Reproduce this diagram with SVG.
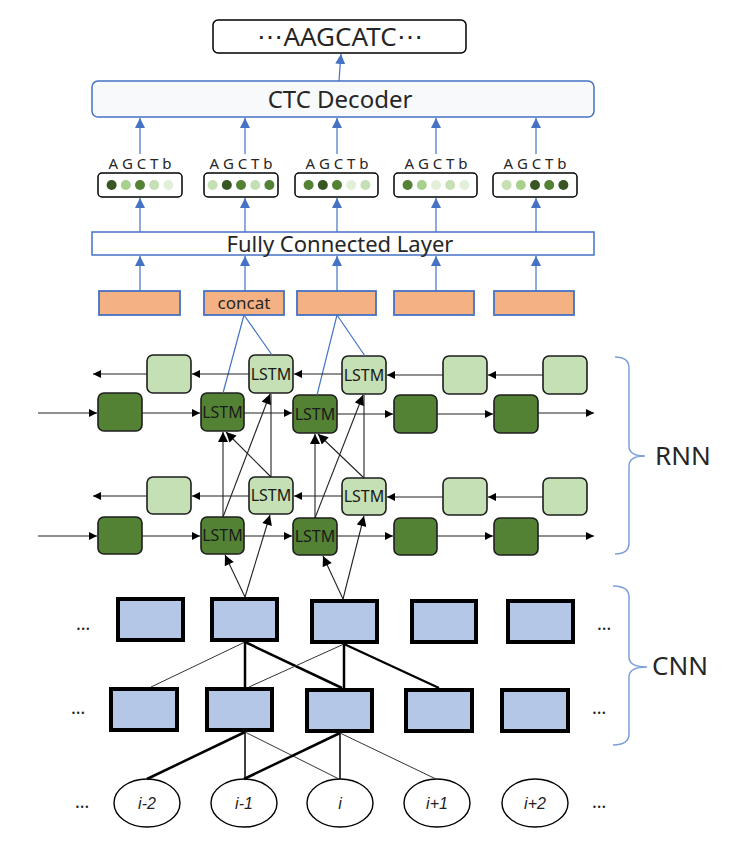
<svg xmlns="http://www.w3.org/2000/svg" width="737" height="860" viewBox="0 0 737 860">
<defs>
<style>
.t{font-family:"Noto Sans","Open Sans","Liberation Sans",sans-serif;fill:#262626}
.lstm{font-family:"Noto Sans","Open Sans","Liberation Sans",sans-serif;font-size:16px;fill:#1a1a1a;text-anchor:middle}
.fw{fill:#548235;stroke:#1e1e1e;stroke-width:1.6}
.bw{fill:#c5e0b4;stroke:#1e1e1e;stroke-width:1.6}
.pb{fill:#fff;stroke:#000;stroke-width:1.5}
.or{fill:#f4b183;stroke:#4472c4;stroke-width:1.8}
.cnn{fill:#b4c7e7;stroke:#000;stroke-width:4}
.ell{fill:#fff;stroke:#000;stroke-width:1.4}
.blu{stroke:#4472c4;stroke-width:1.2;fill:none}
.blk{stroke:#222;stroke-width:1.1;fill:none}
.brace{stroke:#7f9fd8;stroke-width:1.5;fill:none}
.dots{font-family:"Noto Sans","Liberation Sans",sans-serif;font-size:18px;fill:#222;text-anchor:middle}
.idx{font-family:"Liberation Sans","Noto Sans",sans-serif;font-style:italic;font-size:16px;fill:#222;text-anchor:middle}
</style>
<marker id="ab" viewBox="0 0 10 10" refX="10" refY="5" markerWidth="9" markerHeight="8" markerUnits="userSpaceOnUse" orient="auto"><path d="M0,0 L10,5 L0,10 z" fill="#000"/></marker>
<marker id="abb" viewBox="0 0 10 10" refX="10" refY="5" markerWidth="11" markerHeight="10" markerUnits="userSpaceOnUse" orient="auto"><path d="M0,0 L10,5 L0,10 z" fill="#000"/></marker>
<marker id="ub" viewBox="0 0 10 10" refX="10" refY="5" markerWidth="10" markerHeight="10" markerUnits="userSpaceOnUse" orient="auto"><path d="M0,0 L10,5 L0,10 z" fill="#4472c4"/></marker>
</defs>
<rect width="737" height="860" fill="#fff"/>

<!-- Output sequence -->
<g id="output">
<rect x="213" y="20" width="253" height="33" rx="5" fill="#fff" stroke="#000" stroke-width="1.5"/>
<text class="t" x="340" y="46" font-size="26" text-anchor="middle">⋯AAGCATC⋯</text>
</g>

<g id="ctc">
<rect x="92" y="81" width="502" height="36" rx="6" fill="#f8f9fb" stroke="#4472c4" stroke-width="1.5"/>
<text class="t" x="340" y="108" font-size="24" text-anchor="middle">CTC Decoder</text>
</g>

<!-- Probability vectors -->
<g id="prob1">
<text class="t" x="140" y="169" font-size="15" text-anchor="middle">A G C T b</text>
<rect class="pb" x="98" y="173" width="84" height="24" rx="4"/>
<circle cx="111.6" cy="185" r="5" fill="#375623"/><circle cx="125.8" cy="185" r="5" fill="#a9d18e"/><circle cx="140" cy="185" r="5" fill="#548235"/><circle cx="154.2" cy="185" r="5" fill="#c5e0b4"/><circle cx="168.4" cy="185" r="5" fill="#e2f0d9"/>
</g>
<g id="prob2">
<text class="t" x="241" y="169" font-size="15" text-anchor="middle">A G C T b</text>
<rect class="pb" x="204" y="173" width="74" height="24" rx="4"/>
<circle cx="212.6" cy="185" r="5" fill="#c5e0b4"/><circle cx="226.8" cy="185" r="5" fill="#375623"/><circle cx="241" cy="185" r="5" fill="#548235"/><circle cx="255.2" cy="185" r="5" fill="#c5e0b4"/><circle cx="269.4" cy="185" r="5" fill="#548235"/>
</g>
<g id="prob3">
<text class="t" x="337" y="169" font-size="15" text-anchor="middle">A G C T b</text>
<rect class="pb" x="295" y="173" width="83" height="24" rx="4"/>
<circle cx="308.6" cy="185" r="5" fill="#548235"/><circle cx="322.8" cy="185" r="5" fill="#375623"/><circle cx="337" cy="185" r="5" fill="#548235"/><circle cx="351.2" cy="185" r="5" fill="#e2f0d9"/><circle cx="365.4" cy="185" r="5" fill="#c5e0b4"/>
</g>
<g id="prob4">
<text class="t" x="436" y="169" font-size="15" text-anchor="middle">A G C T b</text>
<rect class="pb" x="394" y="173" width="83" height="24" rx="4"/>
<circle cx="407.6" cy="185" r="5" fill="#548235"/><circle cx="421.8" cy="185" r="5" fill="#a9d18e"/><circle cx="436" cy="185" r="5" fill="#e2f0d9"/><circle cx="450.2" cy="185" r="5" fill="#c5e0b4"/><circle cx="464.4" cy="185" r="5" fill="#e2f0d9"/>
</g>
<g id="prob5">
<text class="t" x="535" y="169" font-size="15" text-anchor="middle">A G C T b</text>
<rect class="pb" x="493" y="173" width="84" height="24" rx="4"/>
<circle cx="506.6" cy="185" r="5" fill="#c5e0b4"/><circle cx="520.8" cy="185" r="5" fill="#a9d18e"/><circle cx="535" cy="185" r="5" fill="#375623"/><circle cx="549.2" cy="185" r="5" fill="#548235"/><circle cx="563.4" cy="185" r="5" fill="#375623"/>
</g>

<g id="fc">
<rect x="92" y="232" width="502" height="23" fill="#fff" stroke="#4472c4" stroke-width="1.5"/>
<text class="t" x="340" y="252" font-size="22" text-anchor="middle">Fully Connected Layer</text>
</g>

<g id="orange">
<rect class="or" x="99" y="291" width="81" height="24"/>
<rect class="or" x="204" y="291" width="80" height="24"/>
<text class="t" x="244" y="309" font-size="17" text-anchor="middle">concat</text>
<rect class="or" x="297" y="291" width="79" height="24"/>
<rect class="or" x="394" y="291" width="80" height="24"/>
<rect class="or" x="494" y="291" width="80" height="24"/>
</g>

<!-- RNN nodes -->
<g id="rnn-top-bw">
<rect class="bw" x="147" y="355" width="44" height="38" rx="6"/>
<rect class="bw" x="249" y="355" width="44" height="38" rx="6"/>
<text class="lstm" x="271" y="380">LSTM</text>
<rect class="bw" x="342" y="356" width="44" height="38" rx="6"/>
<text class="lstm" x="364" y="381">LSTM</text>
<rect class="bw" x="443" y="356" width="44" height="38" rx="6"/>
<rect class="bw" x="543" y="356" width="44" height="38" rx="6"/>
</g>
<g id="rnn-top-fw">
<rect class="fw" x="98" y="393" width="44" height="38" rx="6"/>
<rect class="fw" x="201" y="393" width="43" height="38" rx="6"/>
<text class="lstm" x="222.5" y="418">LSTM</text>
<rect class="fw" x="293" y="395" width="44" height="38" rx="6"/>
<text class="lstm" x="315" y="420">LSTM</text>
<rect class="fw" x="394" y="395" width="43" height="38" rx="6"/>
<rect class="fw" x="494" y="395" width="44" height="38" rx="6"/>
</g>
<g id="rnn-bot-bw">
<rect class="bw" x="147" y="477" width="44" height="37" rx="6"/>
<rect class="bw" x="249" y="477" width="44" height="37" rx="6"/>
<text class="lstm" x="271" y="501">LSTM</text>
<rect class="bw" x="342" y="478" width="44" height="37" rx="6"/>
<text class="lstm" x="364" y="502">LSTM</text>
<rect class="bw" x="443" y="478" width="44" height="37" rx="6"/>
<rect class="bw" x="543" y="478" width="44" height="37" rx="6"/>
</g>
<g id="rnn-bot-fw">
<rect class="fw" x="98" y="517" width="44" height="37" rx="6"/>
<rect class="fw" x="201" y="517" width="43" height="37" rx="6"/>
<text class="lstm" x="222.5" y="541">LSTM</text>
<rect class="fw" x="293" y="518" width="44" height="37" rx="6"/>
<text class="lstm" x="315" y="542">LSTM</text>
<rect class="fw" x="394" y="518" width="43" height="37" rx="6"/>
<rect class="fw" x="494" y="518" width="44" height="37" rx="6"/>
</g>

<!-- CNN nodes -->
<g id="cnn-top">
<rect class="cnn" x="118" y="599" width="65" height="41"/>
<rect class="cnn" x="212" y="599" width="65" height="41"/>
<rect class="cnn" x="312" y="601" width="65" height="41"/>
<rect class="cnn" x="412" y="601" width="64" height="41"/>
<rect class="cnn" x="508" y="601" width="65" height="41"/>
<text class="dots" x="83" y="630">…</text>
<text class="dots" x="604" y="630">…</text>
</g>
<g id="cnn-bot">
<rect class="cnn" x="111" y="689" width="66" height="41"/>
<rect class="cnn" x="207" y="689" width="65" height="41"/>
<rect class="cnn" x="307" y="690" width="65" height="41"/>
<rect class="cnn" x="406" y="690" width="66" height="41"/>
<rect class="cnn" x="502" y="690" width="66" height="41"/>
<text class="dots" x="78" y="714">…</text>
<text class="dots" x="599" y="714">…</text>
</g>

<!-- Inputs -->
<g id="inputs">
<ellipse class="ell" cx="147" cy="803" rx="33" ry="24"/>
<text class="idx" x="147" y="809">i-2</text>
<ellipse class="ell" cx="244" cy="803" rx="33" ry="24"/>
<text class="idx" x="244" y="809">i-1</text>
<ellipse class="ell" cx="340" cy="803" rx="33" ry="24"/>
<text class="idx" x="340" y="809">i</text>
<ellipse class="ell" cx="437" cy="803" rx="33" ry="24"/>
<text class="idx" x="437" y="809">i+1</text>
<ellipse class="ell" cx="535" cy="803" rx="33" ry="24"/>
<text class="idx" x="535" y="809">i+2</text>
<text class="dots" x="82" y="808">…</text>
<text class="dots" x="599" y="808">…</text>
</g>

<!-- Braces and labels -->
<g id="rnn-label">
<path class="brace" d="M615,357 Q629,357 629,368 L629,446 Q629,456 645,456 Q629,456 629,466 L629,543 Q629,554 615,554"/>
<text class="t" x="655" y="465" font-size="26">RNN</text>
</g>
<g id="cnn-label">
<path class="brace" d="M613,586 Q629,586 629,597 L629,657 Q629,667 647,667 Q629,667 629,677 L629,734 Q629,745 613,745"/>
<text class="t" x="652" y="675" font-size="26">CNN</text>
</g>

<!-- Connectors -->
<g id="connectors">
<!-- blue arrows -->
<line class="blu" x1="339" y1="81" x2="341" y2="54" marker-end="url(#ub)"/>
<line class="blu" x1="140" y1="154" x2="140" y2="118" marker-end="url(#ub)"/>
<line class="blu" x1="245" y1="154" x2="245" y2="118" marker-end="url(#ub)"/>
<line class="blu" x1="337" y1="154" x2="337" y2="118" marker-end="url(#ub)"/>
<line class="blu" x1="436" y1="154" x2="436" y2="118" marker-end="url(#ub)"/>
<line class="blu" x1="536" y1="154" x2="536" y2="118" marker-end="url(#ub)"/>
<line class="blu" x1="140" y1="232" x2="140" y2="198" marker-end="url(#ub)"/>
<line class="blu" x1="245" y1="232" x2="245" y2="198" marker-end="url(#ub)"/>
<line class="blu" x1="337" y1="232" x2="337" y2="198" marker-end="url(#ub)"/>
<line class="blu" x1="436" y1="232" x2="436" y2="198" marker-end="url(#ub)"/>
<line class="blu" x1="536" y1="232" x2="536" y2="198" marker-end="url(#ub)"/>
<line class="blu" x1="140" y1="291" x2="140" y2="256" marker-end="url(#ub)"/>
<line class="blu" x1="245" y1="291" x2="245" y2="256" marker-end="url(#ub)"/>
<line class="blu" x1="337" y1="291" x2="337" y2="256" marker-end="url(#ub)"/>
<line class="blu" x1="436" y1="291" x2="436" y2="256" marker-end="url(#ub)"/>
<line class="blu" x1="536" y1="291" x2="536" y2="256" marker-end="url(#ub)"/>
<!-- concat lines -->
<line class="blu" x1="244" y1="315" x2="223" y2="393"/>
<line class="blu" x1="244" y1="315" x2="272" y2="355"/>
<line class="blu" x1="337" y1="315" x2="317" y2="395"/>
<line class="blu" x1="337" y1="315" x2="365" y2="356"/>
<!-- top backward row -->
<line class="blk" x1="147" y1="374" x2="93" y2="374" marker-end="url(#ab)"/>
<line class="blk" x1="249" y1="374" x2="192" y2="374" marker-end="url(#ab)"/>
<line class="blk" x1="342" y1="374" x2="294" y2="374" marker-end="url(#ab)"/>
<line class="blk" x1="443" y1="375" x2="387" y2="375" marker-end="url(#ab)"/>
<line class="blk" x1="543" y1="375" x2="488" y2="375" marker-end="url(#ab)"/>
<!-- top forward row -->
<line class="blk" x1="38" y1="413" x2="97" y2="413" marker-end="url(#ab)"/>
<line class="blk" x1="142" y1="413" x2="200" y2="413" marker-end="url(#ab)"/>
<line class="blk" x1="244" y1="413" x2="292" y2="413" marker-end="url(#ab)"/>
<line class="blk" x1="337" y1="414" x2="393" y2="414" marker-end="url(#ab)"/>
<line class="blk" x1="437" y1="414" x2="493" y2="414" marker-end="url(#ab)"/>
<line class="blk" x1="538" y1="413" x2="594" y2="413" marker-end="url(#ab)"/>
<!-- bottom backward row -->
<line class="blk" x1="147" y1="496" x2="93" y2="496" marker-end="url(#ab)"/>
<line class="blk" x1="249" y1="496" x2="192" y2="496" marker-end="url(#ab)"/>
<line class="blk" x1="342" y1="496" x2="294" y2="496" marker-end="url(#ab)"/>
<line class="blk" x1="443" y1="497" x2="387" y2="497" marker-end="url(#ab)"/>
<line class="blk" x1="543" y1="497" x2="488" y2="497" marker-end="url(#ab)"/>
<!-- bottom forward row -->
<line class="blk" x1="38" y1="536" x2="97" y2="536" marker-end="url(#ab)"/>
<line class="blk" x1="142" y1="536" x2="200" y2="536" marker-end="url(#ab)"/>
<line class="blk" x1="244" y1="536" x2="292" y2="536" marker-end="url(#ab)"/>
<line class="blk" x1="337" y1="536" x2="393" y2="536" marker-end="url(#ab)"/>
<line class="blk" x1="437" y1="536" x2="493" y2="536" marker-end="url(#ab)"/>
<line class="blk" x1="538" y1="536" x2="594" y2="536" marker-end="url(#ab)"/>
<!-- inter-layer column 2 -->
<line class="blk" x1="223" y1="517" x2="223" y2="432" marker-end="url(#abb)"/>
<line class="blk" x1="271" y1="477" x2="226" y2="432" marker-end="url(#abb)"/>
<line class="blk" x1="223" y1="517" x2="270" y2="394" marker-end="url(#abb)"/>
<line class="blk" x1="271" y1="477" x2="271" y2="394"/>
<!-- inter-layer column 3 -->
<line class="blk" x1="315" y1="518" x2="315" y2="434" marker-end="url(#abb)"/>
<line class="blk" x1="364" y1="478" x2="318" y2="434" marker-end="url(#abb)"/>
<line class="blk" x1="315" y1="518" x2="363" y2="395" marker-end="url(#abb)"/>
<line class="blk" x1="364" y1="478" x2="364" y2="395"/>
<!-- CNN to RNN -->
<line class="blk" x1="245" y1="597" x2="225" y2="555" marker-end="url(#abb)"/>
<line class="blk" x1="245" y1="597" x2="270" y2="515" marker-end="url(#abb)"/>
<line class="blk" x1="343" y1="599" x2="323" y2="556" marker-end="url(#abb)"/>
<line class="blk" x1="343" y1="599" x2="364" y2="516" marker-end="url(#abb)"/>
<!-- CNN top to bottom -->
<line x1="245" y1="642" x2="151" y2="687" stroke="#333" stroke-width="1"/>
<line x1="245" y1="642" x2="245" y2="687" stroke="#000" stroke-width="2.5"/>
<line x1="245" y1="642" x2="342" y2="688" stroke="#000" stroke-width="2.5"/>
<line x1="344" y1="644" x2="249" y2="687" stroke="#333" stroke-width="1"/>
<line x1="344" y1="644" x2="344" y2="688" stroke="#000" stroke-width="2.5"/>
<line x1="344" y1="644" x2="439" y2="688" stroke="#000" stroke-width="2.2"/>
<!-- CNN bottom to inputs -->
<line x1="245" y1="732" x2="147" y2="779" stroke="#000" stroke-width="2.5"/>
<line x1="245" y1="732" x2="245" y2="779" stroke="#000" stroke-width="1.5"/>
<line x1="245" y1="732" x2="339" y2="779" stroke="#333" stroke-width="1"/>
<line x1="340" y1="733" x2="244" y2="779" stroke="#000" stroke-width="2.5"/>
<line x1="340" y1="733" x2="340" y2="779" stroke="#000" stroke-width="1.5"/>
<line x1="340" y1="733" x2="436" y2="779" stroke="#333" stroke-width="1"/>
</g>
</svg>
